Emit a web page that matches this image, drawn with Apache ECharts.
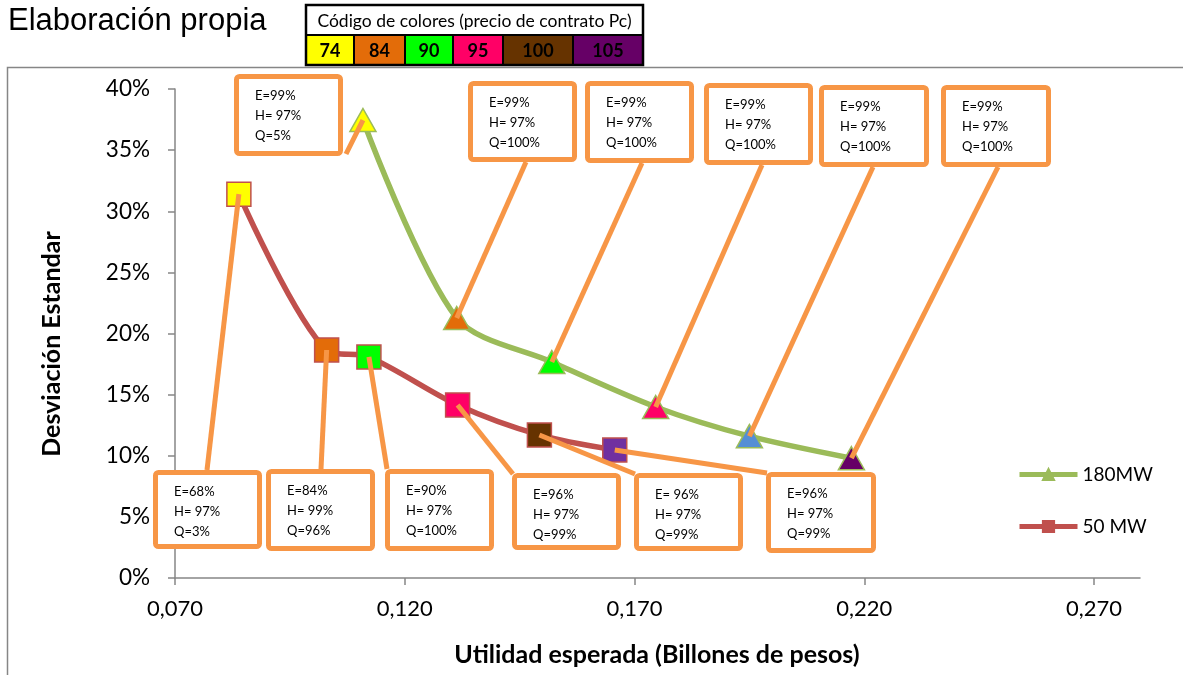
<!DOCTYPE html>
<html>
<head>
<meta charset="utf-8">
<script src="https://cdn.jsdelivr.net/npm/echarts@6/dist/echarts.min.js"></script>
<style>
  html, body { margin: 0; padding: 0; background: #fff; }
  #chart { width: 1183px; height: 675px; }
</style>
</head>
<body>
<div id="chart"></div>
<script>
// Price code legend (contract price Pc) and its colours
const priceCodes = ['74', '84', '90', '95', '100', '105'];
const priceColors = ['#FFFF00', '#E36C09', '#00FF00', '#FF0066', '#663300', '#660066'];

// Axis ticks
const xTicks = [0.07, 0.12, 0.17, 0.22, 0.27];

// 180 MW frontier: expected utility (billions) vs standard deviation
const name180 = '180MW';
const util180 = [0.1109, 0.1313, 0.1520, 0.1746, 0.1950, 0.2172];
const desv180 = [0.3746, 0.2127, 0.1767, 0.1399, 0.1160, 0.0980];
const colors180 = ['#FFFF00', '#E36C09', '#00FF00', '#FF0066', '#558ED5', '#660066'];
const notes180 = [
  ['E=99%', 'H= 97%', 'Q=5%'],
  ['E=99%', 'H= 97%', 'Q=100%'],
  ['E=99%', 'H= 97%', 'Q=100%'],
  ['E=99%', 'H= 97%', 'Q=100%'],
  ['E=99%', 'H= 97%', 'Q=100%'],
  ['E=99%', 'H= 97%', 'Q=100%']
];

// 50 MW frontier
const name50 = '50 MW';
const util50 = [0.0839, 0.1030, 0.1122, 0.1315, 0.1493, 0.1657];
const desv50 = [0.3140, 0.1865, 0.1808, 0.1415, 0.1170, 0.1047];
const colors50 = ['#FFFF00', '#E36C09', '#00FF00', '#FF0066', '#663300', '#7030A0'];
const notes50 = [
  ['E=68%', 'H= 97%', 'Q=3%'],
  ['E=84%', 'H= 99%', 'Q=96%'],
  ['E=90%', 'H= 97%', 'Q=100%'],
  ['E=96%', 'H= 97%', 'Q=99%'],
  ['E= 96%', 'H= 97%', 'Q=99%'],
  ['E=96%', 'H= 97%', 'Q=99%']
];

// Callout box layout: [left, top, width, height] and the point where the leader leaves the box
const boxes180 = [[234, 74, 109, 82], [468, 81, 109, 81], [585, 81, 109, 82], [704, 83, 109, 82], [819, 85, 110, 82], [941, 85, 110, 82]];
const anchors180 = [[346, 154], [526, 162], [642, 163], [762, 165], [873, 167], [998, 167]];
const boxes50 = [[153, 470, 109, 79], [266, 469, 109, 82], [385, 469, 109, 82], [512, 473, 109, 77], [634, 473, 109, 78], [766, 472, 110, 81]];
const anchors50 = [[207, 470], [321, 469], [387, 469], [513, 474], [635, 474], [767, 473]];

const FONT = 'Lato, "Open Sans", sans-serif';
const AXIS_GREY = '#868686';
const CALLOUT = '#F79646';

const chart = echarts.init(document.getElementById('chart'), null, { renderer: 'canvas' });

function points(xs, ys, cols) {
  return xs.map((x, i) => ({ value: [x, ys[i]], itemStyle: { color: cols[i] } }));
}

chart.setOption({
  animation: false,
  backgroundColor: '#fff',
  grid: { left: 175, right: 43, top: 89, bottom: 97 },
  legend: {
    data: [name180, name50],
    orient: 'vertical',
    left: 1012,
    top: 460,
    itemWidth: 58,
    itemHeight: 14,
    itemGap: 33,
    lineStyle: { width: 5 },
    textStyle: { fontFamily: FONT, fontSize: 19, color: '#000' }
  },
  xAxis: {
    type: 'value',
    min: 0.07,
    max: 0.28,
    interval: 0.05,
    axisLine: { show: true, lineStyle: { color: AXIS_GREY, width: 1.5 } },
    axisTick: { show: true, length: 7, lineStyle: { color: AXIS_GREY, width: 1.5 }, customValues: xTicks },
    axisLabel: {
      customValues: xTicks,
      margin: 20,
      fontFamily: FONT, fontSize: 22, color: '#000',
      formatter: v => v.toFixed(3).replace('.', ',')
    },
    splitLine: { show: false }
  },
  yAxis: {
    type: 'value',
    min: 0,
    max: 0.4,
    interval: 0.05,
    axisLine: { show: true, lineStyle: { color: AXIS_GREY, width: 1.5 } },
    axisTick: { show: true, length: 7, lineStyle: { color: AXIS_GREY, width: 1.5 } },
    axisLabel: {
      margin: 25,
      fontFamily: FONT, fontSize: 22.5, color: '#000',
      formatter: v => Math.round(v * 100) + '%'
    },
    splitLine: { show: false }
  },
  series: [
    {
      name: name50,
      type: 'line',
      smooth: 0.3,
      symbol: 'rect',
      symbolSize: 24,
      lineStyle: { color: '#C0504D', width: 5.5 },
      itemStyle: { color: '#C0504D', borderColor: '#C0504D', borderWidth: 1.5 },
      data: points(util50, desv50, colors50),
      z: 2
    },
    {
      name: name180,
      type: 'line',
      smooth: 0.3,
      symbol: 'triangle',
      symbolSize: [26, 23],
      lineStyle: { color: '#9BBB59', width: 5.5 },
      itemStyle: { color: '#9BBB59', borderColor: '#9BBB59', borderWidth: 1.5 },
      data: points(util180, desv180, colors180),
      z: 3
    }
  ]
});

// Overlay: frame, header, colour code table, axis titles and callouts
const graphics = [];

graphics.push({
  type: 'rect', silent: true, z: 0,
  shape: { x: 7.5, y: 67.5, width: 1300, height: 800 },
  style: { fill: 'none', stroke: AXIS_GREY, lineWidth: 1.5 }
});

graphics.push({
  type: 'text', z: 20, x: 8, y: 6,
  style: { text: 'Elaboración propia', font: '31px "Liberation Sans", Arial, sans-serif', fill: '#000' }
});

// colour code table
const tableLeft = 306, tableRight = 643, tableTop = 5, tableMid = 35, tableBottom = 65;
const cellEdges = [306, 354, 405, 453, 503, 573, 643];
priceCodes.forEach((code, i) => {
  graphics.push({
    type: 'rect', z: 20,
    shape: { x: cellEdges[i], y: tableMid, width: cellEdges[i + 1] - cellEdges[i], height: tableBottom - tableMid },
    style: { fill: priceColors[i], stroke: '#000', lineWidth: 2 }
  });
  graphics.push({
    type: 'text', z: 21,
    x: (cellEdges[i] + cellEdges[i + 1]) / 2, y: (tableMid + tableBottom) / 2 + 1,
    style: { text: code, font: 'bold 18px ' + FONT, fill: '#000', align: 'center', verticalAlign: 'middle' }
  });
});
graphics.push({
  type: 'rect', z: 22,
  shape: { x: tableLeft, y: tableTop, width: tableRight - tableLeft, height: tableBottom - tableTop },
  style: { fill: 'none', stroke: '#000', lineWidth: 2.5 }
});
graphics.push({
  type: 'text', z: 21, x: (tableLeft + tableRight) / 2, y: (tableTop + tableMid) / 2 + 1,
  style: { text: 'Código de colores (precio de contrato Pc)', font: '17.5px ' + FONT, fill: '#000', align: 'center', verticalAlign: 'middle' }
});

// axis titles
graphics.push({
  type: 'text', z: 20, x: 657, y: 655,
  style: { text: 'Utilidad esperada (Billones de pesos)', font: 'bold 25px ' + FONT, fill: '#000', align: 'center', verticalAlign: 'middle' }
});
graphics.push({
  type: 'text', z: 20, x: 52, y: 344, rotation: Math.PI / 2,
  style: { text: 'Desviación Estandar', font: 'bold 25px ' + FONT, fill: '#000', align: 'center', verticalAlign: 'middle' }
});

// callouts with leaders pointing at each data point
function addCallouts(seriesIndex, xs, ys, boxes, anchors, notes) {
  xs.forEach((x, i) => {
    const p = chart.convertToPixel({ seriesIndex: seriesIndex }, [x, ys[i]]);
    const [bx, by, bw, bh] = boxes[i];
    graphics.push({
      type: 'line', z: 30, silent: true,
      shape: { x1: anchors[i][0], y1: anchors[i][1], x2: p[0], y2: p[1] },
      style: { stroke: CALLOUT, lineWidth: 5 }
    });
    graphics.push({
      type: 'rect', z: 31, silent: true,
      shape: { x: bx + 2.5, y: by + 2.5, width: bw - 5, height: bh - 5, r: 3 },
      style: { fill: '#fff', stroke: CALLOUT, lineWidth: 5 }
    });
    graphics.push({
      type: 'text', z: 32, silent: true, x: bx + 21, y: by + 12,
      style: { text: notes[i].join('\n'), font: '13px ' + FONT, lineHeight: 20, fill: '#000', verticalAlign: 'top' }
    });
  });
}
addCallouts(1, util180, desv180, boxes180, anchors180, notes180);
addCallouts(0, util50, desv50, boxes50, anchors50, notes50);

chart.setOption({ graphic: graphics });
</script>
</body>
</html>
